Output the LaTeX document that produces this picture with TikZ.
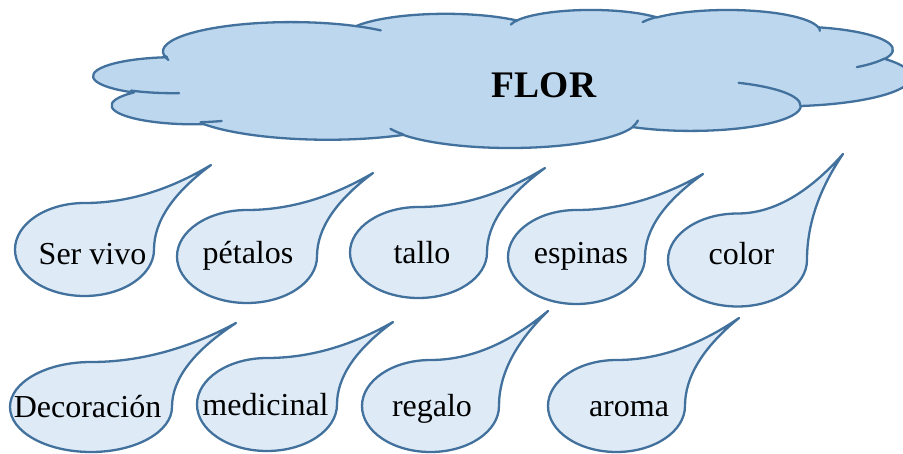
\documentclass[tikz,border=0pt]{standalone}
\usepackage{fontspec}
\setmainfont{Liberation Serif}
\definecolor{cblue}{HTML}{41719C}
\definecolor{cloudfill}{HTML}{BDD7EE}
\definecolor{dropfill}{HTML}{DEEBF7}
\tikzset{
  cloudshape/.style={draw=cblue, fill=cloudfill, line width=2.3pt, line join=round},
  cloudstub/.style={draw=cblue, line width=2.3pt, line cap=round},
  dropshape/.style={draw=cblue, fill=dropfill, line width=2.3pt, line join=round},
  lbl/.style={font=\fontsize{32}{38}\selectfont, inner sep=0pt, anchor=base},
  title/.style={font=\fontsize{37.5}{44}\selectfont\bfseries, inner sep=0pt, anchor=base}
}
% visual (OOXML) angles -> parametric start angle and sweep
\newcommand\visarc[4]{%
  \pgfmathsetmacro\vaS{atan2((#1)*sin(#3),(#2)*cos(#3))}%
  \pgfmathsetmacro\vaE{atan2((#1)*sin((#3)+(#4)),(#2)*cos((#3)+(#4)))}%
  \pgfmathsetmacro\vaD{\vaE-\vaS}%
  \pgfmathsetmacro\vaD{\vaD<0 ? \vaD+360 : \vaD}%
}
\newcommand\carc[4]{\pgfextra{\visarc{#1}{#2}{#3}{#4}} arc[start angle=\vaS, delta angle=\vaD, x radius=#1, y radius=#2]}
% teardrop: cx, cy, rx, ry, tipx, tipy
\newcommand\teardrop[6]{%
  \pgfmathsetmacro\tdL{#1-#3}%
  \pgfmathsetmacro\tdR{#1+#3}%
  \pgfmathsetmacro\tdT{#2-#4}%
  \pgfmathsetmacro\tdXii{(#1+#5)/2}%
  \pgfmathsetmacro\tdYii{(#2+#6)/2}%
  \pgfmathsetmacro\tdAx{#1+2/3*(\tdXii-#1)}%
  \pgfmathsetmacro\tdBx{#5+2/3*(\tdXii-#5)}%
  \pgfmathsetmacro\tdBy{#6+2/3*(\tdT-#6)}%
  \pgfmathsetmacro\tdCx{#5+2/3*(\tdR-#5)}%
  \pgfmathsetmacro\tdCy{#6+2/3*(\tdYii-#6)}%
  \pgfmathsetmacro\tdDy{#2+2/3*(\tdYii-#2)}%
  \path[dropshape] (\tdL,#2) arc[start angle=180, end angle=270, x radius=#3, y radius=#4]
    .. controls (\tdAx,\tdT) and (\tdBx,\tdBy) .. (#5,#6)
    .. controls (\tdCx,\tdCy) and (\tdR,\tdDy) .. (\tdR,#2)
    arc[start angle=0, end angle=180, x radius=#3, y radius=#4] -- cycle;
}
\begin{document}
\begin{tikzpicture}[x=1pt,y=-1pt]
\useasboundingbox (0,0) rectangle (903,453);
% cloud
\begin{scope}[shift={(90pt,-9.5pt)}, x=1.9005pt, y=-0.31944pt]
\path[cloudshape] (39.00,143.70)
  \carc{67.53}{91.90}{-190.48748}{123.78053}
  \carc{53.33}{72.67}{-144.10238}{89.94523}
  \carc{43.65}{59.45}{-145.80792}{99.72302}
  \carc{48.57}{65.95}{-130.98607}{117.24173}
  \carc{53.33}{72.73}{-78.70888}{109.02692}
  \carc{67.75}{92.20}{-46.26725}{130.26900}
  \carc{57.85}{78.67}{0.62502}{114.03333}
  \carc{67.52}{92.15}{22.45160}{115.17255}
  \carc{77.20}{105.43}{66.24263}{72.62725}
  \carc{43.60}{59.18}{-274.94208}{146.73557}
  \carc{43.45}{59.45}{-246.82850}{152.51885}
  -- cycle;
\path[cloudstub]
  (46.93,261.77) \carc{43.45}{59.45}{86.7420}{26.4295}
  (69.28,348.99) \carc{43.60}{59.18}{73.6105}{11.4475}
  (164.78,390.90) \carc{67.52}{92.15}{137.6242}{14.0811}
  (288.27,347.51) \carc{67.52}{92.15}{6.4533}{15.9984}
  (341.29,229.54) \carc{57.85}{78.67}{-70.2924}{70.9174}
  (417.98,153.54) \carc{53.33}{72.73}{30.3180}{27.7515}
  (383.24,54.26) \carc{48.57}{65.95}{-13.7443}{14.8582}
  (290.78,39.52) \carc{48.57}{65.95}{-149.1815}{18.1954}
  (221.41,47.20) \carc{43.65}{59.45}{-163.4943}{17.6864}
  (140.00,51.92) \carc{67.53}{91.90}{-66.7070}{12.3194}
  (41.27,157.89) \carc{67.53}{91.90}{157.6544}{11.8582};
\end{scope}
\node[title] (flor) at (544,97) {FLOR};
% row 1
\teardrop{84.5}{249.5}{69.5}{46.5}{211}{165}
\node[lbl] (t1) at (92.5,264) {Ser vivo};
\teardrop{247}{256.5}{70}{46.5}{373}{173}
\node[lbl] (t2) at (248,263) {pétalos};
\teardrop{418.5}{252.5}{68.5}{45.5}{545}{168}
\node[lbl] (t3) at (422,263) {tallo};
\teardrop{576.5}{257}{68.5}{47}{703}{174}
\node[lbl] (t4) at (581,263) {espinas};
\teardrop{737.5}{260}{69.5}{46.5}{843}{154}
\node[lbl] (t5) at (741.5,264) {color};
% row 2
\teardrop{91}{407}{81}{45}{236}{323}
\node[lbl] (t6) at (87.5,417) {Decoración};
\teardrop{267}{404.5}{70}{46.5}{393}{322}
\node[lbl] (t7) at (265.5,415.5) {medicinal};
\teardrop{430.5}{406}{68.5}{46}{548}{311}
\node[lbl] (t8) at (432,416) {regalo};
\teardrop{616.5}{406}{68.5}{46}{739}{318}
\node[lbl] (t9) at (629,416) {aroma};
\end{tikzpicture}
\end{document}
